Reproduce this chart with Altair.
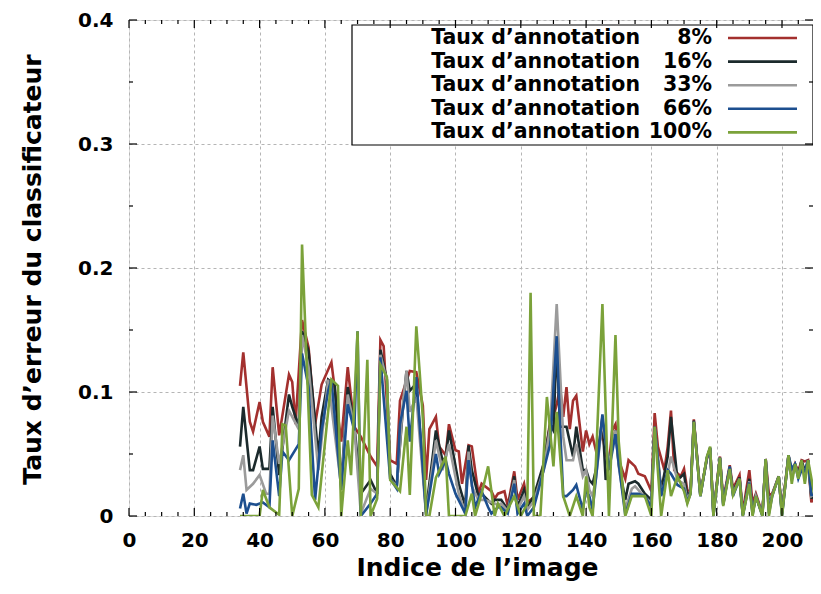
import altair as alt
import pandas as pd

# ---------------- data ----------------
series_names = ["8%", "16%", "33%", "66%", "100%"]
series_colors = ["#a3302e", "#1b2a2c", "#9b9b9b", "#1d4f8f", "#7ba23a"]

tail_x = [171, 172, 173, 175, 177, 178, 179, 181, 182, 184, 185, 187, 188, 190, 191, 192,
          194, 195, 196, 197, 199, 200, 202, 203, 204, 205, 206, 207, 208, 209, 210, 211]

red_x = [34, 35, 37, 38, 40, 41, 43, 44, 46, 49, 50, 51, 53, 55, 57, 59, 62, 65, 67, 69,
         71, 74, 76, 77, 78, 80, 82, 83, 86, 88, 90, 91, 92, 94, 95, 97, 98, 100, 101, 102,
         104, 105, 107, 108, 111, 112, 113, 115, 116, 118, 119, 121, 122, 124, 125, 127, 129, 130, 131, 132,
         133, 134, 135, 136, 137, 139, 140, 141, 142, 143, 145, 146, 147, 148, 149, 150, 152, 153, 155, 156,
         158, 160, 161, 162, 164, 165, 166, 167, 169, 170]
red_y = [.105, .132, .076, .068, .092, .076, .064, .120, .065, .114, .108, .074, .158, .136, .074, .106, .124, .060, .120, .072,
         .064, .048, .040, .142, .137, .045, .042, .093, .117, .116, .089, .029, .070, .080, .056, .049, .074, .053, .052, .026,
         .057, .056, .018, .026, .020, .014, .018, .020, .008, .036, .013, .026, .011, .015, .018, .042, .076, .080, .090, .104,
         .080, .104, .070, .093, .097, .052, .069, .058, .064, .053, .066, .050, .042, .069, .074, .045, .030, .045, .040, .034,
         .032, .020, .083, .056, .037, .056, .085, .037, .032, .038]
red_tail_y = [.021, .020, .078, .018, .046, .054, .003, .048, .013, .041, .022, .033, .003, .037, .010, .018,
              .002, .046, .017, .018, .032, .004, .049, .034, .042, .036, .045, .044, .045, .011, .018, .058]

black_x = [34, 35, 37, 38, 40, 41, 43, 44, 46, 49, 50, 52, 53, 55, 58, 59, 61, 63, 65, 67,
           69, 71, 74, 76, 77, 79, 80, 82, 84, 85, 86, 88, 91, 94, 96, 97, 98, 101, 103, 104,
           105, 107, 108, 111, 112, 114, 116, 118, 119, 121, 122, 124, 127, 129, 130, 131, 132, 134, 136, 137,
           139, 140, 141, 142, 143, 145, 146, 149, 150, 152, 153, 155, 156, 158, 160, 161, 163, 165, 166, 168, 170]
black_y = [.056, .088, .037, .037, .056, .038, .038, .088, .033, .098, .088, .072, .149, .133, .048, .080, .110, .106, .026, .104,
           .074, .018, .029, .018, .134, .110, .034, .024, .090, .117, .101, .107, .005, .069, .045, .047, .069, .026, .008, .057,
           .037, .016, .018, .010, .013, .013, .005, .032, .007, .021, .007, .016, .042, .074, .069, .140, .072, .072, .048, .072,
           .037, .037, .029, .026, .037, .080, .029, .069, .042, .013, .026, .028, .026, .018, .013, .072, .021, .048, .080, .029, .034]
black_tail_y = [.016, .020, .077, .017, .047, .055, .001, .047, .010, .039, .019, .031, .001, .030, .003, .016,
                .001, .046, .008, .017, .032, .002, .049, .030, .042, .033, .045, .036, .045, .014, .020, .058]

gray_x = [34, 35, 36, 38, 40, 42, 43, 44, 46, 49, 52, 53, 55, 58, 61, 65, 67, 69, 71, 74,
          76, 77, 79, 80, 82, 84, 85, 86, 88, 91, 94, 96, 98, 101, 103, 104, 105, 107, 109, 113,
          114, 116, 118, 119, 121, 122, 124, 127, 129, 131, 133, 134, 136, 137, 139, 140, 141, 142, 143, 145,
          147, 149, 150, 152, 154, 155, 157, 160, 161, 163, 165, 166, 168, 170]
gray_y = [.037, .049, .021, .026, .033, .018, .018, .081, .042, .085, .070, .146, .120, .037, .110, .024, .098, .072, .002, .022,
          .018, .130, .109, .030, .024, .093, .117, .084, .096, .001, .061, .037, .058, .018, .002, .052, .024, .013, .013, .009,
          .010, .004, .029, .005, .016, .005, .012, .037, .072, .171, .064, .045, .045, .058, .032, .037, .021, .016, .030, .077,
          .042, .069, .040, .006, .022, .024, .018, .010, .072, .018, .034, .048, .029, .026]
gray_tail_y = [.013, .019, .076, .016, .047, .055, .001, .047, .009, .039, .018, .030, .001, .028, .002, .016,
               .001, .046, .005, .017, .032, .001, .049, .030, .042, .032, .042, .034, .045, .016, .018, .058]

blue_x = [34, 35, 36, 37, 39, 41, 43, 44, 46, 47, 49, 52, 53, 55, 57, 59, 61, 62, 65, 67,
          69, 70, 71, 74, 76, 77, 80, 82, 83, 85, 86, 88, 91, 94, 95, 97, 98, 100, 103, 104,
          106, 108, 110, 111, 113, 114, 116, 118, 119, 121, 122, 124, 127, 129, 131, 132, 133, 134, 136, 137,
          139, 140, 141, 142, 143, 145, 147, 149, 150, 152, 154, 156, 158, 160, 161, 163, 165, 166, 168, 170]
blue_y = [.006, .018, .002, .010, .009, .011, .007, .061, .016, .052, .045, .058, .131, .104, .013, .069, .101, .110, .021, .090,
          .069, .149, .000, .010, .018, .128, .030, .022, .074, .101, .060, .112, .001, .050, .034, .045, .034, .018, .002, .045,
          .007, .020, .007, .002, .007, .007, .002, .026, .002, .010, .000, .007, .037, .058, .145, .074, .016, .016, .021, .025,
          .005, .021, .016, .005, .030, .082, .037, .066, .042, .001, .018, .018, .016, .007, .072, .016, .037, .034, .025, .022]
blue_tail_y = [.011, .018, .076, .016, .047, .055, .000, .047, .009, .040, .016, .030, .000, .027, .001, .016,
               .000, .046, .002, .016, .032, .000, .049, .038, .042, .030, .037, .036, .045, .017, .017, .058]

green_x = [34, 40, 41, 43, 46, 47, 48, 50, 52, 53, 56, 58, 62, 64, 65, 67, 68, 70, 71, 73,
           74, 76, 77, 79, 80, 83, 85, 86, 88, 89, 90, 91, 92, 94, 96, 97, 98, 103, 105, 106,
           108, 110, 112, 113, 115, 118, 120, 122, 123, 124, 126, 128, 130, 131, 133, 135, 137, 139, 140, 141,
           142, 143, 145, 147, 149, 150, 152, 154, 156, 158, 160, 161, 163, 165, 166, 168, 170,
           171, 172, 173, 175, 177, 178, 179, 181, 182, 184, 185, 187, 188, 190, 191, 192,
           194, 195, 196, 197, 199, 200, 202, 203, 204, 205, 206, 207, 208, 210, 211]
green_y = [0, 0, .021, .007, .001, .074, .073, 0, .022, .219, .017, .007, .110, .105, 0, .061, .033, .149, 0, .126,
           0, .014, .122, .112, .029, .020, .072, .017, .153, .117, .079, 0, 0, .031, .042, .048, 0, 0, .018, 0,
           .018, .040, 0, .010, 0, .016, 0, .010, .180, 0, 0, .096, .040, .084, .016, 0, .016, 0, .032, .007,
           0, .042, .171, 0, .146, .060, 0, .016, .016, .016, 0, .072, 0, .037, .016, .032, .020,
           .010, .018, .076, .016, .048, .056, 0, .047, .008, .038, .017, .030, 0, .026, 0, .016,
           0, .046, 0, .016, .032, 0, .049, .026, .042, .030, .045, .026, .045, .016, .058]

x_major = list(range(0, 201, 20))
x_minor = [v for v in range(5, 210, 5) if v % 20 != 0]
y_major = [0.0, 0.1, 0.2, 0.3, 0.4]
y_minor = [0.05, 0.15, 0.25, 0.35]

# ---------------- layout ----------------
W, H = 684, 496
X_MAX = 209.5
FONT = "DejaVu Sans"
MAJ, MIN = 8, 4

series_x = [red_x + tail_x, black_x + tail_x, gray_x + tail_x, blue_x + tail_x, green_x]
series_y = [red_y + red_tail_y, black_y + black_tail_y, gray_y + gray_tail_y, blue_y + blue_tail_y, green_y]

xscale = alt.Scale(domain=[0, X_MAX], nice=False, zero=False)
yscale = alt.Scale(domain=[0, 0.4], nice=False, zero=False)

x_axis = alt.Axis(values=x_major, grid=True, ticks=False, tickSize=0, domain=False, labelFlush=False,
                  labelFont=FONT, labelFontSize=20, labelFontWeight="bold", labelColor="black",
                  labelPadding=14, labelOverlap=False,
                  gridDash=[3, 3], gridColor="#b5b5b5", gridWidth=1,
                  title="Indice de l’image", titleFont=FONT, titleFontSize=25, titleFontWeight="bold",
                  titleColor="black", titleX=348, titleY=59, titleBaseline="alphabetic")
y_axis = alt.Axis(values=y_major, grid=True, ticks=False, tickSize=0, domain=False, labelFlush=False,
                  labelExpr="datum.value == 0 ? '0' : format(datum.value, '.1f')",
                  labelFont=FONT, labelFontSize=20, labelFontWeight="bold", labelColor="black",
                  labelPadding=16, labelOverlap=False,
                  gridDash=[3, 3], gridColor="#b5b5b5", gridWidth=1,
                  title="Taux d’erreur du classificateur", titleFont=FONT, titleFontSize=25,
                  titleFontWeight="bold", titleColor="black", titleAngle=270,
                  titleX=-97, titleY=249, titleAlign="center", titleBaseline="middle")

layers = []
for xs, ys, c in zip(series_x, series_y, series_colors):
    df = pd.DataFrame({"x": xs, "y": ys})
    layers.append(
        alt.Chart(df).mark_line(color=c, strokeWidth=2.6, clip=True).encode(
            x=alt.X("x:Q", scale=xscale, axis=x_axis),
            y=alt.Y("y:Q", scale=yscale, axis=y_axis),
        )
    )

one = pd.DataFrame({"a": [0]})

# legend box
layers.append(
    alt.Chart(one).mark_rect(fill="white", stroke="black", strokeWidth=1.2).encode(
        x=alt.value(223), x2=alt.value(W), y=alt.value(5), y2=alt.value(125)
    )
)
for i, (name, c) in enumerate(zip(series_names, series_colors)):
    yy = 18 + 23.6 * i
    layers.append(
        alt.Chart(one).mark_text(text="Taux d’annotation", align="right", baseline="middle", font=FONT,
                                 fontSize=20.5, fontWeight="bold", color="black").encode(
            x=alt.value(511), y=alt.value(yy))
    )
    layers.append(
        alt.Chart(one).mark_text(text=name, align="right", baseline="middle", font=FONT,
                                 fontSize=20.5, fontWeight="bold", color="black").encode(
            x=alt.value(583), y=alt.value(yy))
    )
    layers.append(
        alt.Chart(one).mark_rule(color=c, strokeWidth=2.6).encode(
            x=alt.value(599), x2=alt.value(668), y=alt.value(yy))
    )

# inward ticks on all four sides
def vticks(vals, y0, y1):
    return alt.Chart(pd.DataFrame({"x": vals})).mark_rule(color="black", strokeWidth=1.2).encode(
        x=alt.X("x:Q", scale=xscale, axis=x_axis), y=alt.value(y0), y2=alt.value(y1))

def hticks(vals, x0, x1):
    return alt.Chart(pd.DataFrame({"y": vals})).mark_rule(color="black", strokeWidth=1.2).encode(
        y=alt.Y("y:Q", scale=yscale, axis=y_axis), x=alt.value(x0), x2=alt.value(x1))

layers += [
    vticks(x_major, H, H - MAJ), vticks(x_minor, H, H - MIN),
    vticks(x_major, 0, MAJ), vticks(x_minor, 0, MIN),
    hticks(y_major, 0, MAJ), hticks(y_minor, 0, MIN),
    hticks(y_major, W, W - MAJ), hticks(y_minor, W, W - MIN),
]

chart = alt.layer(*layers).properties(
    width=W, height=H,
    padding={"left": 121, "top": 12, "right": 0, "bottom": 66},
    autosize=alt.AutoSizeParams(type="none"),
).configure_view(stroke="black", strokeWidth=1.5).configure(background="white")

chart.save("out.html", embed_options={"renderer": "svg", "actions": False})
